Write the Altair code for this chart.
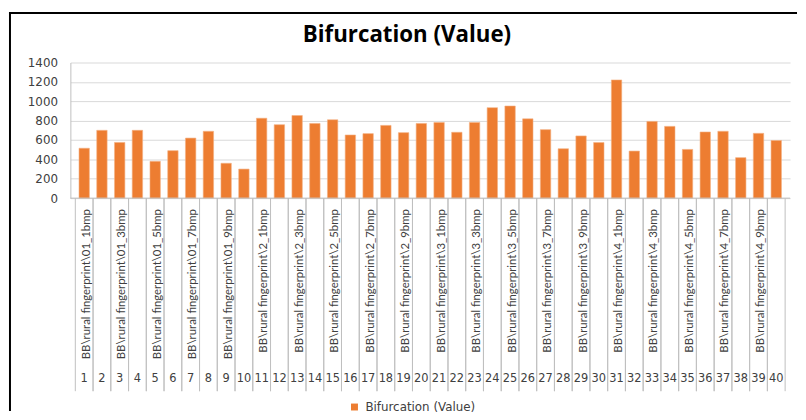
import altair as alt
import pandas as pd

cat_numbers = list(range(1, 41))
values = [515, 700, 575, 700, 380, 490, 620, 690, 360, 300,
          825, 758, 853, 771, 809, 652, 666, 751, 676, 771,
          781, 680, 781, 934, 951, 819, 707, 510, 642, 574,
          1220, 486, 792, 741, 503, 683, 690, 418, 669, 595]
file_labels = [
    "BB\\rural fingerprint\\01_1bmp", "", "BB\\rural fingerprint\\01_3bmp", "",
    "BB\\rural fingerprint\\01_5bmp", "", "BB\\rural fingerprint\\01_7bmp", "",
    "BB\\rural fingerprint\\01_9bmp", "", "BB\\rural fingerprint\\2_1bmp", "",
    "BB\\rural fingerprint\\2_3bmp", "", "BB\\rural fingerprint\\2_5bmp", "",
    "BB\\rural fingerprint\\2_7bmp", "", "BB\\rural fingerprint\\2_9bmp", "",
    "BB\\rural fingerprint\\3_1bmp", "", "BB\\rural fingerprint\\3_3bmp", "",
    "BB\\rural fingerprint\\3_5bmp", "", "BB\\rural fingerprint\\3_7bmp", "",
    "BB\\rural fingerprint\\3_9bmp", "", "BB\\rural fingerprint\\4_1bmp", "",
    "BB\\rural fingerprint\\4_3bmp", "", "BB\\rural fingerprint\\4_5bmp", "",
    "BB\\rural fingerprint\\4_7bmp", "", "BB\\rural fingerprint\\4_9bmp", "",
]
series_name = "Bifurcation (Value)"
y_ticks = [0, 200, 400, 600, 800, 1000, 1200, 1400]

df = pd.DataFrame({"idx": cat_numbers, "value": values,
                   "label": file_labels, "series": series_name})

W, H = 727, 137
TEXT = "#404040"
LINE = "#BFBFBF"
xscale = alt.Scale(domain=[0.5, 40.5], nice=False, zero=False)
yscale = alt.Scale(domain=[0, 1400], nice=False)

base = alt.Chart(df)

bars = base.mark_bar(size=10.5, stroke="#F4B183", strokeWidth=0.6).encode(
    x=alt.X("idx:Q", scale=xscale, axis=None),
    y=alt.Y("value:Q", scale=yscale,
            axis=alt.Axis(values=y_ticks, title=None, grid=True, gridColor="#D9D9D9",
                          domain=True, domainColor=LINE, ticks=False, tickSize=0,
                          format="d", labelOverlap=False, labelFlush=False,
                          labelPadding=13, labelFont="DejaVu Sans", labelFontSize=12,
                          labelColor=TEXT)),
    color=alt.Color("series:N", scale=alt.Scale(range=["#ED7D31"]),
                    legend=alt.Legend(orient="none", legendX=281, legendY=342, title=None,
                                      padding=0, symbolType="square", symbolSize=49,
                                      symbolStrokeWidth=0, labelFont="DejaVu Sans",
                                      labelFontSize=12, labelColor=TEXT, labelOffset=5)),
)

one = pd.DataFrame({"k": [0]})

baseline = alt.Chart(one).mark_rule(color=LINE).encode(
    y=alt.value(H), x=alt.value(0), x2=alt.value(W))

div_left = base.transform_calculate(b="datum.idx - 0.5").mark_rule(color=LINE).encode(
    x=alt.X("b:Q", scale=xscale, axis=None), y=alt.value(H), y2=alt.value(332))
div_right = base.transform_calculate(b="datum.idx + 0.5").mark_rule(color=LINE).encode(
    x=alt.X("b:Q", scale=xscale, axis=None), y=alt.value(H), y2=alt.value(332))

numbers = base.mark_text(font="DejaVu Sans", fontSize=11.5, color=TEXT,
                         baseline="middle").encode(
    x=alt.X("idx:Q", scale=xscale, axis=None), y=alt.value(319.5), text="idx:Q")

labels = base.transform_filter("datum.label != ''").mark_text(
    angle=270, align="right", baseline="middle", dy=2.5, font="Lato",
    fontSize=11.5, color=TEXT).encode(
    x=alt.X("idx:Q", scale=xscale, axis=None), y=alt.value(148), text="label:N")

title_df = pd.DataFrame({"t": [series_name]})
title = alt.Chart(title_df).mark_text(
    font="Open Sans", fontSize=22.5, fontWeight="bold", color="black",
    align="center", baseline="alphabetic").encode(
    x=alt.value(340), y=alt.value(-21), text="t:N")

border_left = alt.Chart(one).mark_rule(color="black", strokeWidth=2).encode(
    x=alt.value(-61), y=alt.value(-51), y2=alt.value(352))
border_top = alt.Chart(one).mark_rule(color="black", strokeWidth=2).encode(
    x=alt.value(-62), x2=alt.value(734), y=alt.value(-50))

chart = alt.layer(
    bars, baseline, div_left, div_right, numbers, labels, title,
    border_left, border_top
).properties(
    width=W, height=H,
    padding={"left": 0, "top": 1, "right": 0, "bottom": 0},
    background="white",
).configure_view(stroke=None)

chart.save("out.html", embed_options={"renderer": "svg", "actions": False})
